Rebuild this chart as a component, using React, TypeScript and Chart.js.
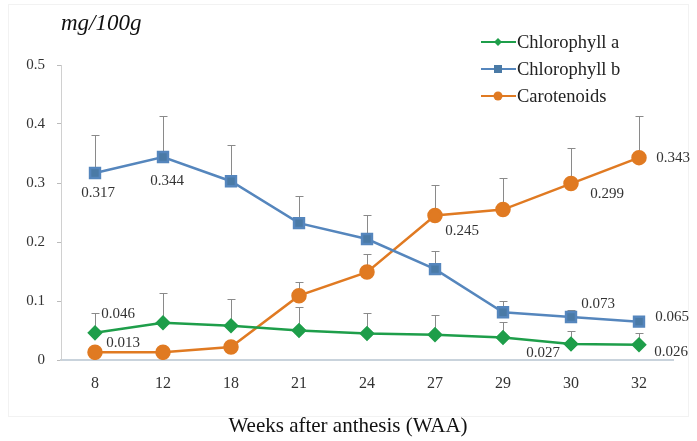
import React, { useEffect, useRef } from "react";
import { Chart, registerables } from "chart.js";

Chart.register(...registerables);

const categories = ["8", "12", "18", "21", "24", "27", "29", "30", "32"];
const chlA = [0.046, 0.063, 0.058, 0.05, 0.045, 0.043, 0.038, 0.027, 0.026];
const chlAErr = [0.08, 0.113, 0.103, 0.09, 0.08, 0.076, 0.065, 0.05, 0.045];
const chlB = [0.317, 0.344, 0.303, 0.232, 0.205, 0.154, 0.081, 0.073, 0.065];
const chlBErr = [0.381, 0.414, 0.364, 0.278, 0.246, 0.185, 0.1, 0.085, 0.075];
const caro = [0.013, 0.013, 0.022, 0.109, 0.149, 0.245, 0.255, 0.299, 0.343];
const caroErr = [0.02, 0.02, 0.03, 0.132, 0.18, 0.296, 0.308, 0.359, 0.414];
const yTicks = [0, 0.1, 0.2, 0.3, 0.4, 0.5];
const seriesNames = ["Chlorophyll a", "Chlorophyll b", "Carotenoids"];

// labels: [seriesIndex, pointIndex, text]
const valueLabels: [number, number, string][] = [
  [0, 0, "0.046"],
  [0, 7, "0.027"],
  [0, 8, "0.026"],
  [1, 0, "0.317"],
  [1, 1, "0.344"],
  [1, 7, "0.073"],
  [1, 8, "0.065"],
  [2, 0, "0.013"],
  [2, 5, "0.245"],
  [2, 7, "0.299"],
  [2, 8, "0.343"],
];
// label offsets (style), same order as valueLabels
const labelOffsets: [number, number][] = [
  [23, -19],
  [-28, 9],
  [32, 7],
  [3, 20],
  [4, 24],
  [27, -13],
  [33, -5],
  [28, -9],
  [27, 16],
  [36, 10],
  [34, 0],
];

const GREEN = "#1e9e4a";
const BLUE = "#5586bd";
const BLUE_M = "#4a7aa6";
const ORANGE = "#e07a22";
const SERIF = "'Liberation Serif', 'Times New Roman', serif";

export default function App() {
  const ref = useRef<HTMLCanvasElement | null>(null);
  useEffect(() => {
    if (!ref.current) return;
    const errs = [chlAErr, chlBErr, caroErr];
    const overlay = {
      id: "overlay",
      beforeDraw(chart: any) {
        const ctx = chart.ctx;
        ctx.save();
        ctx.strokeStyle = "#f2f2f2";
        ctx.lineWidth = 1;
        ctx.strokeRect(8.5, 4.5, 680, 412);
        ctx.restore();
      },
      beforeDatasetsDraw(chart: any) {
        const ctx = chart.ctx;
        const x = chart.scales.x;
        const y = chart.scales.y;
        ctx.save();
        ctx.strokeStyle = "#8a8a8a";
        ctx.lineWidth = 1;
        chart.data.datasets.forEach((ds: any, si: number) => {
          ds.data.forEach((v: number, i: number) => {
            const px = Math.round(x.getPixelForValue(i)) + 0.5;
            const py0 = y.getPixelForValue(v);
            const py1 = Math.round(y.getPixelForValue(errs[si][i])) + 0.5;
            ctx.beginPath();
            ctx.moveTo(px, py0);
            ctx.lineTo(px, py1);
            ctx.moveTo(px - 4, py1);
            ctx.lineTo(px + 4, py1);
            ctx.stroke();
          });
        });
        ctx.restore();
      },
      afterDraw(chart: any) {
        const ctx = chart.ctx;
        const x = chart.scales.x;
        const y = chart.scales.y;
        ctx.save();
        // value labels
        ctx.font = "15px " + SERIF;
        ctx.fillStyle = "#333";
        ctx.textAlign = "center";
        ctx.textBaseline = "middle";
        valueLabels.forEach((l, k) => {
          const ds = chart.data.datasets[l[0]];
          const v = ds.data[l[1]];
          const px = x.getPixelForValue(l[1]);
          const py = y.getPixelForValue(v);
          ctx.fillText(l[2], px + labelOffsets[k][0], py + labelOffsets[k][1]);
        });
        // unit title
        ctx.font = "italic 23px " + SERIF;
        ctx.fillStyle = "#111";
        ctx.textAlign = "left";
        ctx.fillText("mg/100g", 61, 24);
        // x axis title
        ctx.font = "21px " + SERIF;
        ctx.textAlign = "center";
        ctx.fillText("Weeks after anthesis (WAA)", 348, 426);
        // legend
        const cols = [GREEN, BLUE, ORANGE];
        const mcols = [GREEN, BLUE_M, ORANGE];
        const styles = ["rectRot", "rect", "circle"];
        ctx.font = "18.5px " + SERIF;
        ctx.textAlign = "left";
        seriesNames.forEach((n, i) => {
          const ly = 42 + i * 27;
          ctx.strokeStyle = cols[i];
          ctx.lineWidth = 2;
          ctx.beginPath();
          ctx.moveTo(481, ly);
          ctx.lineTo(516, ly);
          ctx.stroke();
          ctx.fillStyle = mcols[i];
          ctx.beginPath();
          if (styles[i] === "rectRot") {
            ctx.moveTo(498, ly - 4);
            ctx.lineTo(502, ly);
            ctx.lineTo(498, ly + 4);
            ctx.lineTo(494, ly);
            ctx.closePath();
          } else if (styles[i] === "rect") {
            ctx.rect(494, ly - 4, 8, 8);
          } else {
            ctx.arc(498, ly, 4.5, 0, Math.PI * 2);
          }
          ctx.fill();
          ctx.fillStyle = "#222";
          ctx.fillText(n, 517, ly + 1);
        });
        ctx.restore();
      },
    };
    const chart = new Chart(ref.current, {
      type: "line",
      data: {
        labels: categories,
        datasets: [
          {
            label: seriesNames[0],
            data: chlA,
            borderColor: GREEN,
            backgroundColor: GREEN,
            pointStyle: "rectRot",
            pointRadius: 6,
            borderWidth: 2.5,
          },
          {
            label: seriesNames[1],
            data: chlB,
            borderColor: BLUE,
            backgroundColor: BLUE_M,
            pointStyle: "rect",
            pointRadius: 7,
            borderWidth: 2.5,
          },
          {
            label: seriesNames[2],
            data: caro,
            borderColor: ORANGE,
            backgroundColor: ORANGE,
            pointStyle: "circle",
            pointRadius: 6.5,
            borderWidth: 2.5,
          },
        ],
      },
      plugins: [overlay],
      options: {
        animation: false,
        responsive: false,
        maintainAspectRatio: false,
        layout: { padding: { left: 0, right: 24, top: 65, bottom: 0 } },
        plugins: { legend: { display: false }, tooltip: { enabled: false } },
        scales: {
          x: {
            offset: true,
            grid: { display: false, drawTicks: false },
            border: { color: "#c9d3dc", width: 2 },
            ticks: {
              color: "#333",
              padding: 14,
              font: { family: SERIF, size: 16 },
            },
            afterFit: (s: any) => {
              s.height = 81;
            },
          },
          y: {
            min: 0,
            max: 0.5,
            afterBuildTicks: (s: any) => {
              s.ticks = yTicks.map((v) => ({ value: v }));
            },
            grid: { display: true, drawOnChartArea: false, tickLength: 4, color: "#bbb" },
            border: { color: "#d0d0d0", width: 1 },
            ticks: {
              color: "#333",
              padding: 12,
              font: { family: SERIF, size: 15 },
              callback: (v: any) => String(Math.round(Number(v) * 10) / 10),
            },
            afterFit: (s: any) => {
              s.width = 61;
            },
          },
        },
      },
    });
    return () => chart.destroy();
  }, []);
  return (
    <div style={{ position: "absolute", left: 0, top: 0, width: 697, height: 441, background: "#fff" }}>
      <canvas ref={ref} width={697} height={441} style={{ display: "block" }} />
    </div>
  );
}
